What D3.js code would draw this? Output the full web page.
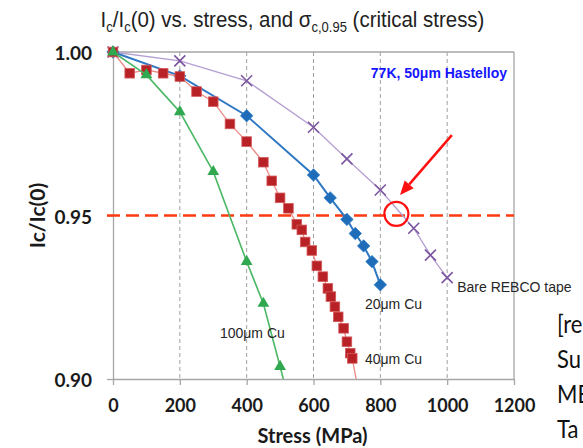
<!DOCTYPE html>
<html><head><meta charset="utf-8">
<script src="https://cdn.jsdelivr.net/npm/d3@7"></script>
<style>body{margin:0;background:#fff}</style>
</head><body>
<svg id="c" width="583" height="448"></svg>
<script>
// ---------- data ----------
const xTicks = [0,200,400,600,800,1000,1200];
const yTicks = [0.90,0.95,1.00];
const yTickLabels = ["0.90","0.95","1.00"];

const bareStress = [0,200,400,600,700,800,900,950,1000];
const bareIc     = [1.0,0.9973,0.9912,0.977,0.9673,0.9578,0.9461,0.9379,0.931];

const cu20Stress = [0,200,400,600,650,700,725,750,775,800];
const cu20Ic     = [1.0,0.9927,0.9805,0.9624,0.9554,0.9488,0.9445,0.9407,0.9359,0.9288];

const cu40Stress = [0,50,100,150,200,250,300,350,400,450,475,500,525,550,565,575,595,610,628,643,652,664,674,690,700,710,716,735];
const cu40Ic     = [1.0,0.9935,0.9945,0.9935,0.9925,0.9879,0.9848,0.978,0.9726,0.9663,0.9606,0.9554,0.9522,0.9473,0.9456,0.9419,0.9393,0.9346,0.9313,0.9277,0.9252,0.9221,0.919,0.9155,0.9114,0.9079,0.9063,0.896];

const cu100Stress = [0,100,200,300,400,450,500,520];
const cu100Ic     = [1.0,0.993,0.9817,0.9634,0.9359,0.9231,0.9038,0.896];

const criticalLevel = 0.95;
const circlePoint = [848, 0.9505];
const arrowFrom = [1014, 0.9746];
const arrowTo = [859, 0.9563];

const seriesLabels = [
  {text:"Bare REBCO tape", s:1030, v:0.9265},
  {text:"20μm Cu", s:754, v:0.9213},
  {text:"40μm Cu", s:754, v:0.9047},
  {text:"100μm Cu", s:320, v:0.9126}
];
const sideText = ["[re","Su","ME","Ta"];

// ---------- layout ----------
const svg = d3.select("#c");
const L=113, R=514, T=52, B=379;
const x = d3.scaleLinear().domain([0,1200]).range([L,R]);
const y = d3.scaleLinear().domain([0.90,1.00]).range([B,T]);
const axisColor="#a6a6a6";
const boldFont="Lato, 'Open Sans', sans-serif";
const arial="'Liberation Sans', Arial, sans-serif";

svg.append("defs").append("clipPath").attr("id","plot")
  .append("rect").attr("x",L-8).attr("y",T-8).attr("width",R-L+16).attr("height",B-T+8);

// title
const title = svg.append("text").attr("transform","translate(292.5,27) scale(0.93,1)").attr("text-anchor","middle")
  .attr("font-family",arial).attr("font-size",22).attr("fill","#222");
title.append("tspan").text("I");
title.append("tspan").text("c").attr("font-size",14).attr("dy",5);
title.append("tspan").text("/I").attr("dy",-5);
title.append("tspan").text("c").attr("font-size",14).attr("dy",5);
title.append("tspan").text("(0) vs. stress, and σ").attr("dy",-5);
title.append("tspan").text("c,0.95").attr("font-size",14).attr("dy",5);
title.append("tspan").text(" (critical stress)").attr("dy",-5);

// gridlines (vertical dashed)
svg.append("g").selectAll("line").data(xTicks.filter(d=>d>0&&d<1200)).join("line")
  .attr("x1",d=>x(d)).attr("x2",d=>x(d)).attr("y1",T).attr("y2",B)
  .attr("stroke","#a0a0a0").attr("stroke-width",1).attr("stroke-dasharray","4,3");

// frame: top and right
svg.append("line").attr("x1",L).attr("x2",R).attr("y1",T).attr("y2",T).attr("stroke",axisColor).attr("stroke-width",1.3);
svg.append("line").attr("x1",R).attr("x2",R).attr("y1",T).attr("y2",B).attr("stroke",axisColor).attr("stroke-width",1.3);

// axes
const xAxis = svg.append("g").attr("transform",`translate(0,${B})`)
  .call(d3.axisBottom(x).tickValues(xTicks).tickFormat(d3.format("d")).tickSize(6).tickSizeOuter(0).tickPadding(12));
const yAxis = svg.append("g").attr("transform",`translate(${L},0)`)
  .call(d3.axisLeft(y).tickValues(yTicks).tickSize(6).tickSizeOuter(0).tickPadding(15).tickFormat((d,i)=>yTickLabels[i]));
[xAxis,yAxis].forEach(g=>{
  g.select(".domain").attr("stroke",axisColor).attr("stroke-width",1.3);
  g.selectAll(".tick line").attr("stroke",axisColor).attr("stroke-width",1.3);
  g.selectAll(".tick text").attr("fill","#1a1a1a").attr("font-family",boldFont)
   .attr("font-weight","bold").attr("font-size",18);
});
xAxis.selectAll(".tick text").attr("dy","0.85em");
yAxis.selectAll(".tick text").attr("dy","0.4em").attr("font-size",19);

// axis labels
svg.append("text").attr("x",(L+R)/2-1).attr("y",443).attr("text-anchor","middle")
  .attr("font-family",boldFont).attr("font-weight","bold").attr("font-size",20).attr("fill","#1a1a1a")
  .text("Stress (MPa)");
svg.append("text").attr("transform",`translate(45,${y(0.95)}) rotate(-90)`).attr("text-anchor","middle")
  .attr("font-family",boldFont).attr("font-weight","bold").attr("font-size",21).attr("fill","#1a1a1a")
  .text("Ic/Ic(0)");

// 0.95 dashed line
svg.append("line").attr("x1",x(0)-6).attr("x2",x(1200)).attr("y1",y(criticalLevel)).attr("y2",y(criticalLevel))
  .attr("stroke","#ff3a10").attr("stroke-width",2.5).attr("stroke-dasharray","13,6");

const plot = svg.append("g").attr("clip-path","url(#plot)");
const line = d3.line().x(d=>x(d[0])).y(d=>y(d[1]));
const zip = (a,b)=>a.map((v,i)=>[v,b[i]]);
const inPlot = d=>d[1]>=0.899;

// bare REBCO (purple X)
const bare = zip(bareStress,bareIc);
plot.append("path").attr("d",line(bare)).attr("fill","none").attr("stroke","#b49fd2").attr("stroke-width",1.3);
plot.append("g").selectAll("path").data(bare).join("path")
  .attr("d",d=>{const cx=x(d[0]),cy=y(d[1]),r=5.5;return `M${cx-r},${cy-r}L${cx+r},${cy+r}M${cx-r},${cy+r}L${cx+r},${cy-r}`;})
  .attr("stroke","#7b559f").attr("stroke-width",1.6).attr("fill","none");

// 20um Cu (blue diamonds)
const c20 = zip(cu20Stress,cu20Ic);
plot.append("path").attr("d",line(c20)).attr("fill","none").attr("stroke","#2f78c4").attr("stroke-width",2);
plot.append("g").selectAll("path").data(c20).join("path")
  .attr("d",d=>{const cx=x(d[0]),cy=y(d[1]),r=6.2;return `M${cx},${cy-r}L${cx+r},${cy}L${cx},${cy+r}L${cx-r},${cy}Z`;})
  .attr("fill","#1f6cb8").attr("stroke","#2b7bc8").attr("stroke-width",0.8);

// 40um Cu (red squares)
const c40 = zip(cu40Stress,cu40Ic);
plot.append("path").attr("d",line(c40)).attr("fill","none").attr("stroke","#ea8a86").attr("stroke-width",1.3);
plot.append("g").selectAll("rect").data(c40.filter(inPlot)).join("rect")
  .attr("x",d=>x(d[0])-4.8).attr("y",d=>y(d[1])-4.8).attr("width",9.6).attr("height",9.6)
  .attr("fill","#b82126").attr("stroke","#d45a5a").attr("stroke-width",0.8);

// 100um Cu (green triangles)
const c100 = zip(cu100Stress,cu100Ic);
plot.append("path").attr("d",line(c100)).attr("fill","none").attr("stroke","#4cb866").attr("stroke-width",1.6);
plot.append("g").selectAll("path").data(c100.filter(inPlot)).join("path")
  .attr("d",d3.symbol().type(d3.symbolTriangle).size(60))
  .attr("transform",d=>`translate(${x(d[0])},${y(d[1])})`)
  .attr("fill","#2fa84f");

// series labels
svg.append("g").selectAll("text").data(seriesLabels).join("text")
  .attr("x",d=>x(d.s)).attr("y",d=>y(d.v))
  .attr("font-family",arial).attr("font-size",14).attr("fill","#262626")
  .text(d=>d.text);

// condition label
svg.append("text").attr("x",507).attr("y",78).attr("text-anchor","end")
  .attr("font-family",arial).attr("font-weight","bold").attr("font-size",14)
  .attr("fill","#1414ff").text("77K, 50μm Hastelloy");

// red circle and arrow
svg.append("circle").attr("cx",x(circlePoint[0])).attr("cy",y(circlePoint[1])).attr("r",12)
  .attr("fill","none").attr("stroke","#ff1010").attr("stroke-width",2.2);
const ax1=x(arrowFrom[0]), ay1=y(arrowFrom[1]), ax2=x(arrowTo[0]), ay2=y(arrowTo[1]);
const ang=Math.atan2(ay2-ay1,ax2-ax1), hl=14, hw=6;
const bx=ax2-hl*Math.cos(ang), by=ay2-hl*Math.sin(ang);
svg.append("line").attr("x1",ax1).attr("y1",ay1).attr("x2",bx).attr("y2",by)
  .attr("stroke","#ff1010").attr("stroke-width",2.5);
svg.append("path").attr("d",`M${ax2},${ay2}L${bx+hw*Math.sin(ang)},${by-hw*Math.cos(ang)}L${bx-hw*Math.sin(ang)},${by+hw*Math.cos(ang)}Z`)
  .attr("fill","#ff1010");

// cut-off side text (as in the reference, it runs past the right edge)
svg.append("g").selectAll("text").data(sideText).join("text")
  .attr("transform",(d,i)=>`translate(557,${333+i*35}) scale(0.88,1)`)
  .attr("font-family",boldFont).attr("font-size",25).attr("fill","#111")
  .text(d=>d);
</script>
</body></html>
